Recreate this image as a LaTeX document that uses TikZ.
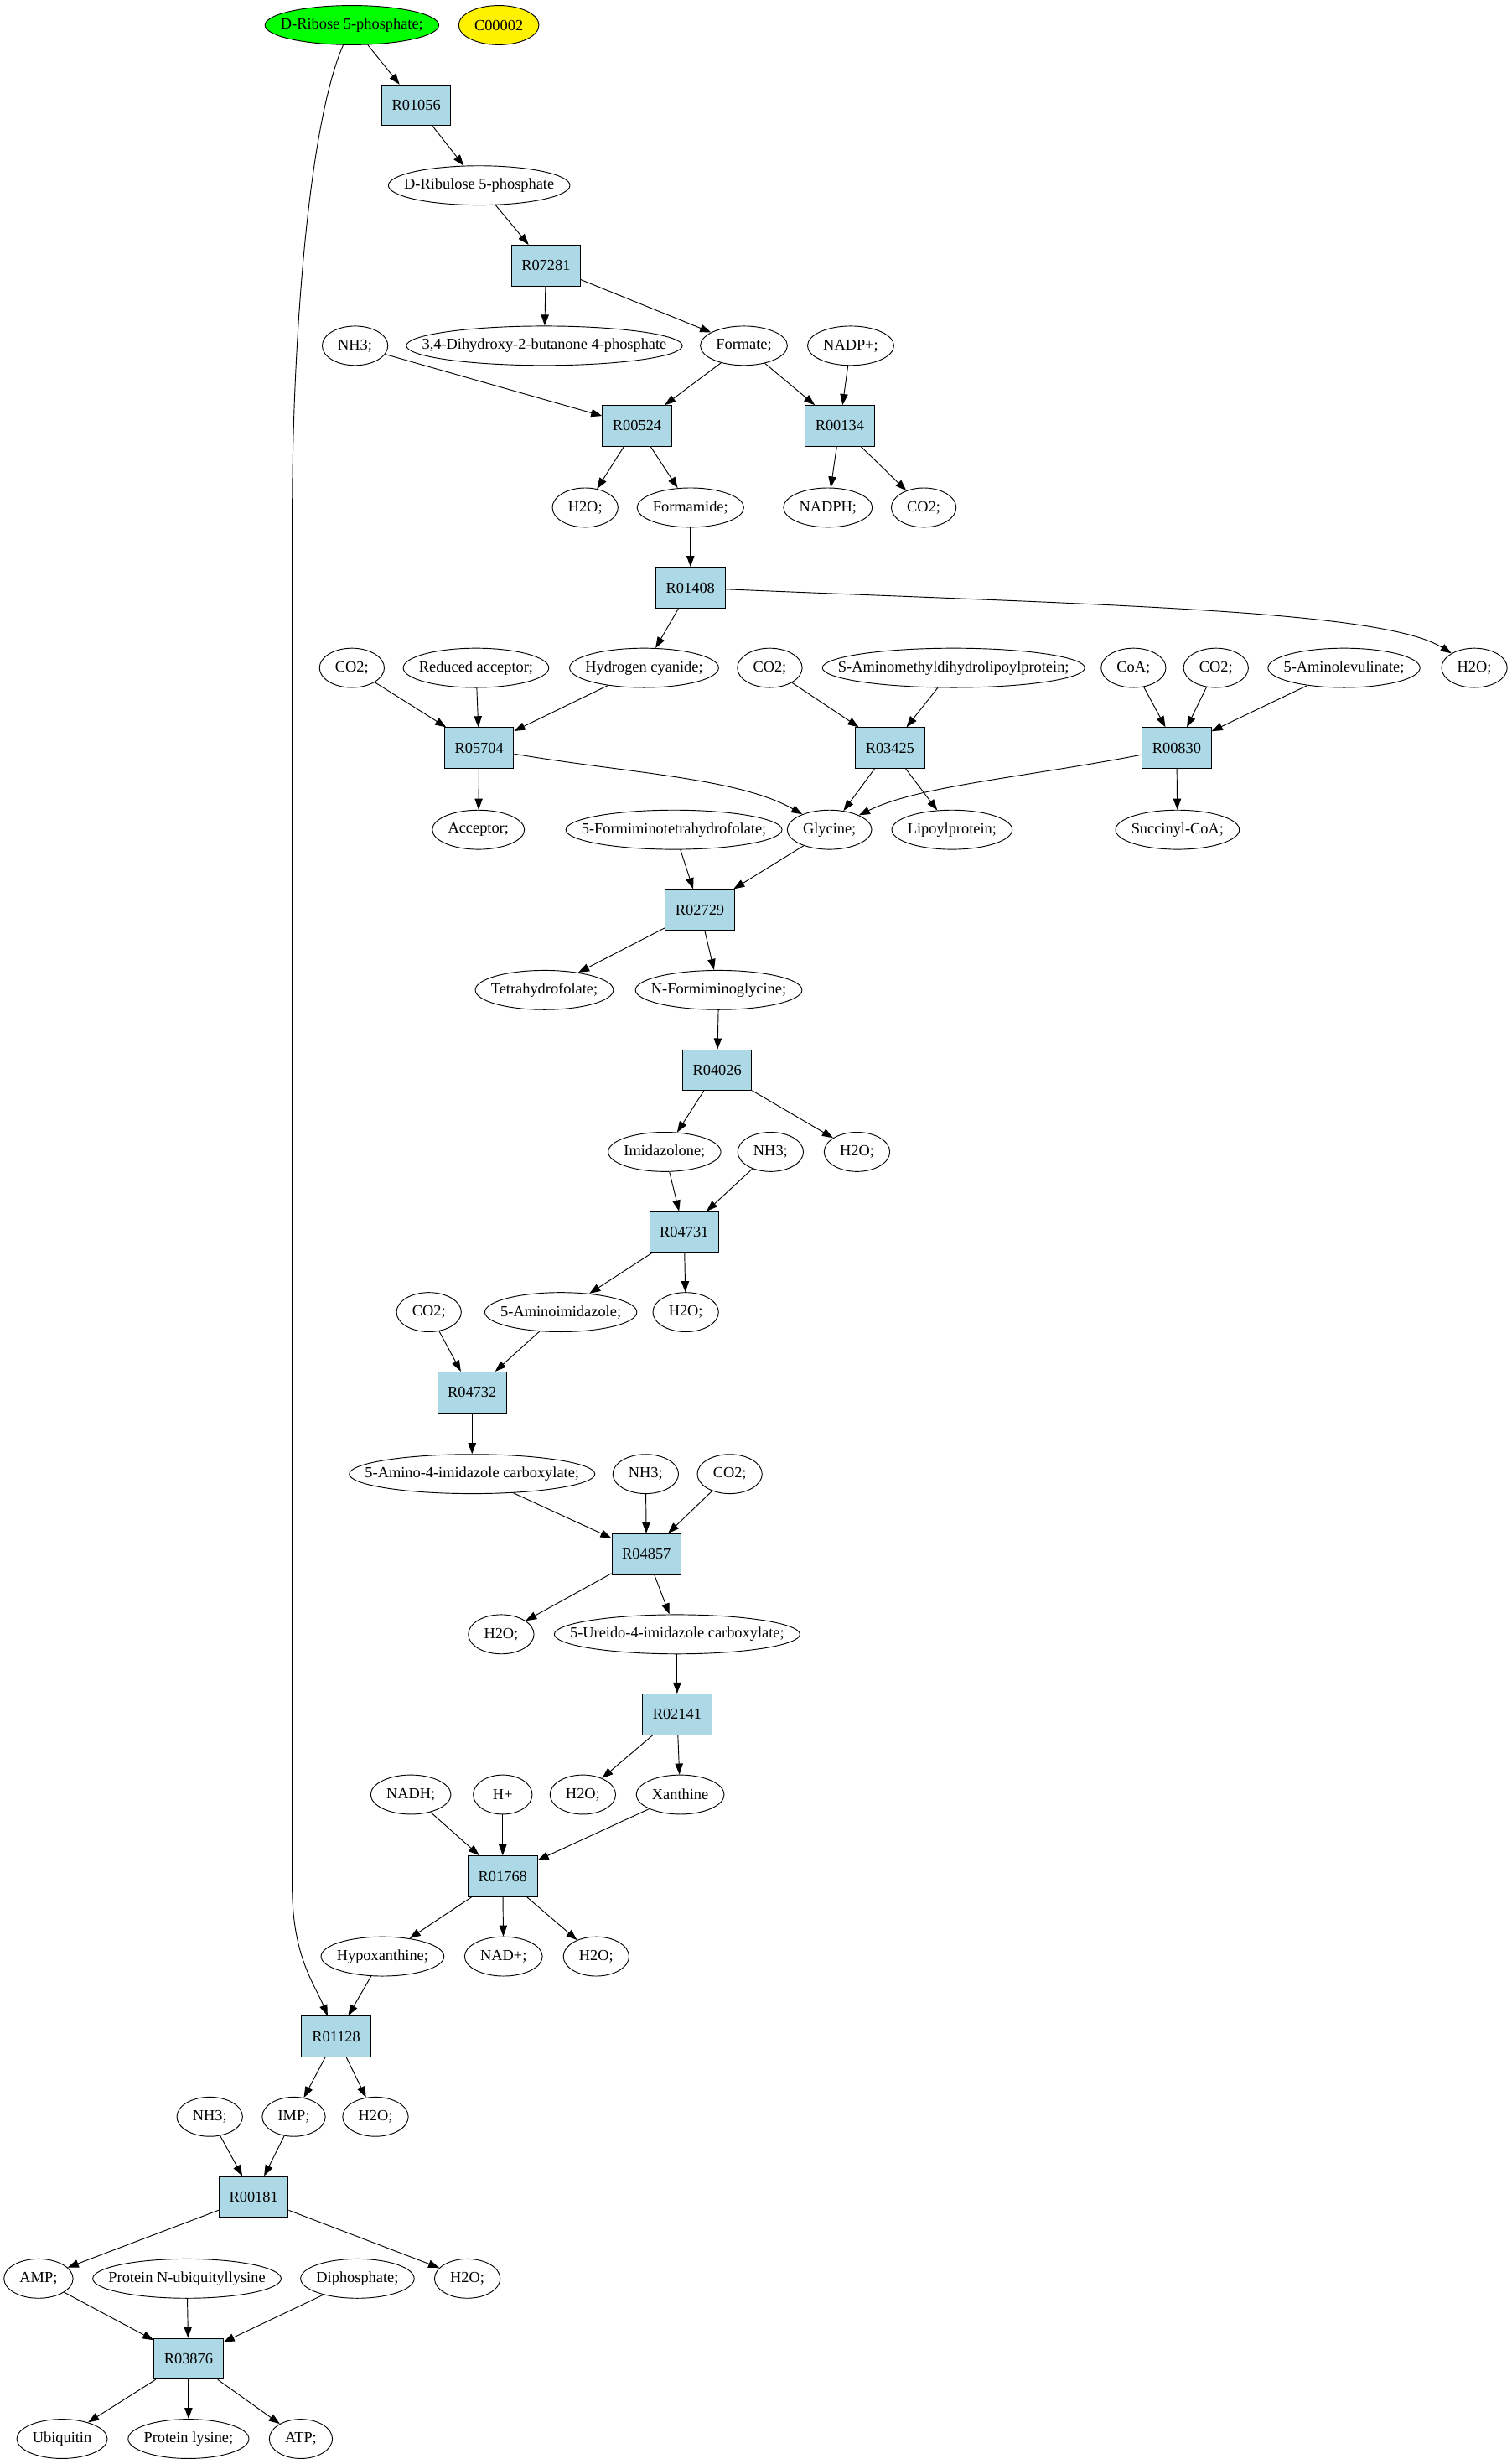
\documentclass[tikz,border=0pt]{standalone}
\usepackage{fontspec}
\setmainfont{Liberation Serif}
\usetikzlibrary{arrows.meta,shapes.geometric}

\definecolor{rxnblue}{HTML}{ADD8E6}
\newcommand{\cpdfont}{\fontsize{9.8}{11}\selectfont}

% compound ellipse: width follows the label
\newdimen\cpdw
\newsavebox{\cpdbox}
\newcommand{\cpdnode}[4][]{%
  \pgfinterruptpicture\sbox{\cpdbox}{\normalfont\cpdfont #4}\global\cpdw=\wd\cpdbox\relax\endpgfinterruptpicture
  \global\advance\cpdw by 20pt\relax
  \ifdim\cpdw<37.5pt\relax \global\cpdw=37.5pt\relax\fi
  \node[cpd, minimum width=\the\cpdw, #1] (#2) at (#3) {\makebox[0pt]{#4}};}

\tikzset{
  cpd/.style={draw, ellipse, inner sep=0pt, minimum height=25pt, font=\cpdfont},
  rxn/.style={draw, fill=rxnblue, minimum width=44pt, minimum height=26pt, inner sep=0pt, font=\cpdfont},
  flow/.style={-{Triangle[length=7pt,width=5pt]}, line width=0.5pt}
}

\begin{document}
\begin{tikzpicture}[x=1pt, y=-1pt, line width=0.5pt]
\useasboundingbox (0,0) rectangle (962.4,1568);

\cpdnode[fill=green]{ribose}{224,16}{D-Ribose 5-phosphate;}
\cpdnode[fill=yellow]{c00002}{317.5,16}{C00002}

\node[rxn] (r01056) at (265,67) {R01056};
\cpdnode{ribulose}{305,118}{D-Ribulose 5-phosphate}
\node[rxn] (r07281) at (347.5,169) {R07281};

\cpdnode{nh3a}{226,220}{NH3;}
\cpdnode{dhbp}{346.5,220}{3,4-Dihydroxy-2-butanone 4-phosphate}
\cpdnode{formate}{473.5,220}{Formate;}
\cpdnode{nadp}{541.5,220}{NADP+;}

\node[rxn] (r00524) at (405.5,271) {R00524};
\node[rxn] (r00134) at (534.5,271) {R00134};

\cpdnode{h2oa}{372.5,323}{H2O;}
\cpdnode{formamide}{439.5,323}{Formamide;}
\cpdnode{nadph}{527,323}{NADPH;}
\cpdnode{co2a}{588,323}{CO2;}

\node[rxn] (r01408) at (439.5,374) {R01408};

\cpdnode{co2b}{224,425}{CO2;}
\cpdnode{redacc}{303,425}{Reduced acceptor;}
\cpdnode{hcn}{410,425}{Hydrogen cyanide;}
\cpdnode{co2c}{490,425}{CO2;}
\cpdnode{samdl}{607,425}{S-Aminomethyldihydrolipoylprotein;}
\cpdnode{coa}{721.5,425}{CoA;}
\cpdnode{co2d}{774,425}{CO2;}
\cpdnode{ala}{855.5,425}{5-Aminolevulinate;}
\cpdnode{h2ob}{938.5,425}{H2O;}

\node[rxn] (r05704) at (305,476) {R05704};
\node[rxn] (r03425) at (566.5,476) {R03425};
\node[rxn] (r00830) at (749,476) {R00830};

\cpdnode{acceptor}{304.5,528}{Acceptor;}
\cpdnode{fthf}{429,528}{5-Formiminotetrahydrofolate;}
\cpdnode{glycine}{528,528}{Glycine;}
\cpdnode{lipoyl}{606,528}{Lipoylprotein;}
\cpdnode{succoa}{749.5,528}{Succinyl-CoA;}

\node[rxn] (r02729) at (445.5,579) {R02729};

\cpdnode{thf}{346.5,630}{Tetrahydrofolate;}
\cpdnode{figly}{457.5,630}{N-Formiminoglycine;}

\node[rxn] (r04026) at (456.5,681) {R04026};

\cpdnode{imidazolone}{423,733}{Imidazolone;}
\cpdnode{nh3b}{490.5,733}{NH3;}
\cpdnode{h2oc}{545.5,733}{H2O;}

\node[rxn] (r04731) at (435.5,784) {R04731};

\cpdnode{co2e}{273,835}{CO2;}
\cpdnode{aimid}{357,835}{5-Aminoimidazole;}
\cpdnode{h2od}{436.5,835}{H2O;}

\node[rxn] (r04732) at (300.5,886) {R04732};

\cpdnode{aicarb}{300.5,938}{5-Amino-4-imidazole carboxylate;}
\cpdnode{nh3c}{411,938}{NH3;}
\cpdnode{co2f}{464.5,938}{CO2;}

\node[rxn] (r04857) at (411.5,989) {R04857};

\cpdnode{h2oe}{319,1040}{H2O;}
\cpdnode{uicarb}{431,1040}{5-Ureido-4-imidazole carboxylate;}

\node[rxn] (r02141) at (431,1091) {R02141};

\cpdnode{nadh}{261.5,1142}{NADH;}
\cpdnode{hplus}{320,1142}{H+}
\cpdnode{h2of}{371,1142}{H2O;}
\cpdnode{xanthine}{433,1142}{Xanthine}

\node[rxn] (r01768) at (320,1194) {R01768};

\cpdnode{hypox}{243.5,1245}{Hypoxanthine;}
\cpdnode{nad}{320.5,1245}{NAD+;}
\cpdnode{h2og}{379.5,1245}{H2O;}

\node[rxn] (r01128) at (214,1296) {R01128};

\cpdnode{nh3d}{133.5,1347}{NH3;}
\cpdnode{imp}{187,1347}{IMP;}
\cpdnode{h2oh}{239,1347}{H2O;}

\node[rxn] (r00181) at (161.5,1398) {R00181};

\cpdnode{amp}{24.5,1450}{AMP;}
\cpdnode{pnub}{119,1450}{Protein N-ubiquityllysine}
\cpdnode{ppi}{227.5,1450}{Diphosphate;}
\cpdnode{h2oi}{297.5,1450}{H2O;}

\node[rxn] (r03876) at (120,1501) {R03876};

\cpdnode{ubiquitin}{39.5,1552}{Ubiquitin}
\cpdnode{plys}{120,1552}{Protein lysine;}
\cpdnode{atp}{191.5,1552}{ATP;}

% reactions
\draw[flow] (ribose) -- (r01056);
\draw[flow] (ribose) .. controls (196,80) and (186,220) .. (186,330) -- (186,1200) .. controls (186,1245) and (200,1262) .. (r01128);
\draw[flow] (r01056) -- (ribulose);
\draw[flow] (ribulose) -- (r07281);
\draw[flow] (r07281) -- (dhbp);
\draw[flow] (r07281) -- (formate);
\draw[flow] (nh3a) -- (r00524);
\draw[flow] (formate) -- (r00524);
\draw[flow] (formate) -- (r00134);
\draw[flow] (nadp) -- (r00134);
\draw[flow] (r00524) -- (h2oa);
\draw[flow] (r00524) -- (formamide);
\draw[flow] (r00134) -- (nadph);
\draw[flow] (r00134) -- (co2a);
\draw[flow] (formamide) -- (r01408);
\draw[flow] (r01408) -- (hcn);
\draw[flow] (r01408) .. controls (700,385) and (880,388) .. (h2ob);
\draw[flow] (co2b) -- (r05704);
\draw[flow] (redacc) -- (r05704);
\draw[flow] (hcn) -- (r05704);
\draw[flow] (co2c) -- (r03425);
\draw[flow] (samdl) -- (r03425);
\draw[flow] (coa) -- (r00830);
\draw[flow] (co2d) -- (r00830);
\draw[flow] (ala) -- (r00830);
\draw[flow] (r05704) -- (acceptor);
\draw[flow] (r05704) .. controls (400,492) and (470,495) .. (glycine);
\draw[flow] (r03425) -- (glycine);
\draw[flow] (r03425) -- (lipoyl);
\draw[flow] (r00830) .. controls (650,495) and (585,500) .. (glycine);
\draw[flow] (r00830) -- (succoa);
\draw[flow] (fthf) -- (r02729);
\draw[flow] (glycine) -- (r02729);
\draw[flow] (r02729) -- (thf);
\draw[flow] (r02729) -- (figly);
\draw[flow] (figly) -- (r04026);
\draw[flow] (r04026) -- (imidazolone);
\draw[flow] (r04026) -- (h2oc);
\draw[flow] (imidazolone) -- (r04731);
\draw[flow] (nh3b) -- (r04731);
\draw[flow] (r04731) -- (aimid);
\draw[flow] (r04731) -- (h2od);
\draw[flow] (co2e) -- (r04732);
\draw[flow] (aimid) -- (r04732);
\draw[flow] (r04732) -- (aicarb);
\draw[flow] (aicarb) -- (r04857);
\draw[flow] (nh3c) -- (r04857);
\draw[flow] (co2f) -- (r04857);
\draw[flow] (r04857) -- (h2oe);
\draw[flow] (r04857) -- (uicarb);
\draw[flow] (uicarb) -- (r02141);
\draw[flow] (r02141) -- (h2of);
\draw[flow] (r02141) -- (xanthine);
\draw[flow] (nadh) -- (r01768);
\draw[flow] (hplus) -- (r01768);
\draw[flow] (xanthine) -- (r01768);
\draw[flow] (r01768) -- (hypox);
\draw[flow] (r01768) -- (nad);
\draw[flow] (r01768) -- (h2og);
\draw[flow] (hypox) -- (r01128);
\draw[flow] (r01128) -- (imp);
\draw[flow] (r01128) -- (h2oh);
\draw[flow] (nh3d) -- (r00181);
\draw[flow] (imp) -- (r00181);
\draw[flow] (r00181) -- (amp);
\draw[flow] (r00181) -- (h2oi);
\draw[flow] (amp) -- (r03876);
\draw[flow] (pnub) -- (r03876);
\draw[flow] (ppi) -- (r03876);
\draw[flow] (r03876) -- (ubiquitin);
\draw[flow] (r03876) -- (plys);
\draw[flow] (r03876) -- (atp);

\end{tikzpicture}
\end{document}
